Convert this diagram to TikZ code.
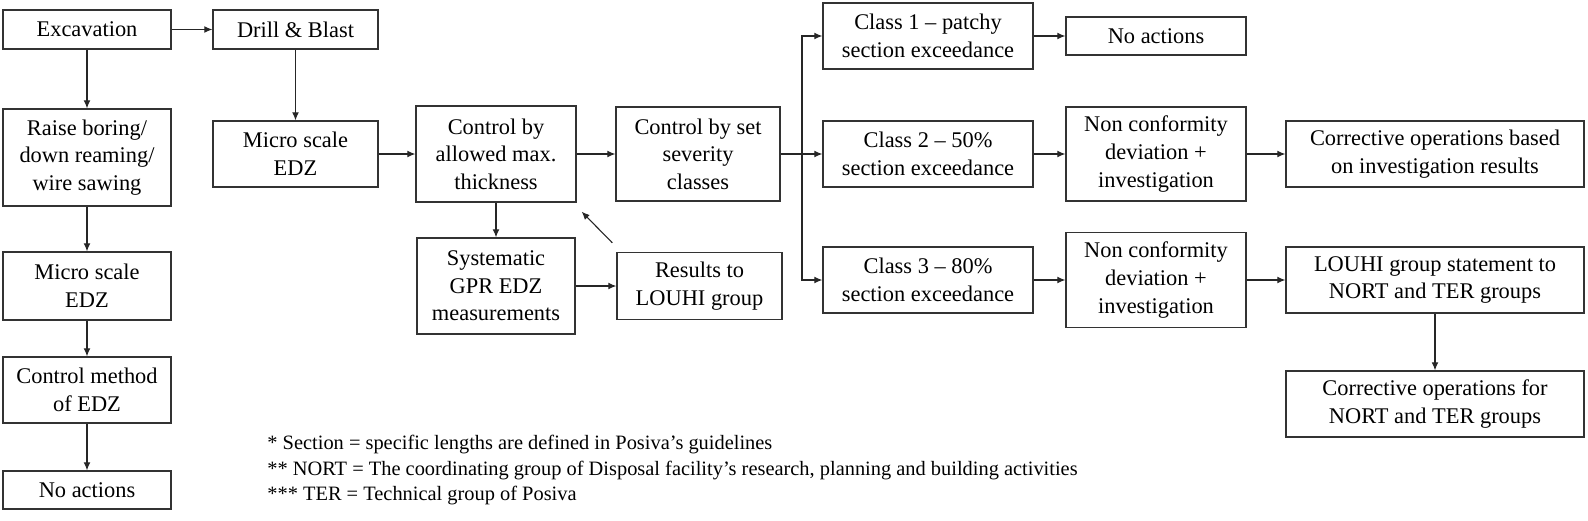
\documentclass[tikz,border=0pt]{standalone}
\usepackage{fontspec}
\setmainfont{Liberation Serif}
\usetikzlibrary{arrows.meta}
\tikzset{
	stage/.style={draw=black!80, line width=.65pt, align=center, inner sep=0pt,
		font=\fontsize{11.2}{13.8}\selectfont},
	flow/.style={draw=black!85, line width=.55pt, -{Latex[length=4pt,width=3.4pt]}},
	note/.style={anchor=west, inner sep=0pt, font=\fontsize{10.2}{12}\selectfont}
}
\begin{document}
\begin{tikzpicture}[x=.5pt,y=-.5pt]
	\useasboundingbox (0,0) rectangle (1588,520);
	\node[stage, minimum width=84pt, minimum height=19.5pt] (exc) at (87,29.5) {Excavation};
	\node[stage, minimum width=82.5pt, minimum height=19.5pt] (drill) at (295.5,29.5) {Drill \& Blast};
	\node[stage, minimum width=84pt, minimum height=48.5pt] (raise) at (87,157.5)
		{Raise boring/\\down reaming/\\wire sawing};
	\node[stage, minimum width=84pt, minimum height=34pt] (microL) at (87,286) {Micro scale\\EDZ};
	\node[stage, minimum width=84pt, minimum height=33pt] (ctrlEDZ) at (87,390) {Control method\\of EDZ};
	\node[stage, minimum width=84pt, minimum height=19pt] (noactL) at (87,490) {No actions};
	\node[stage, minimum width=82.5pt, minimum height=33pt] (microM) at (295.5,154) {Micro scale\\EDZ};
	\node[stage, minimum width=80pt, minimum height=48pt] (ctrlMax) at (496,154)
		{Control by\\allowed max.\\thickness};
	\node[stage, minimum width=79pt, minimum height=48pt] (gpr) at (496,286)
		{Systematic\\GPR EDZ\\measurements};
	\node[stage, minimum width=82.5pt, minimum height=33.5pt] (results) at (699.5,286)
		{Results to\\LOUHI group};
	\node[stage, minimum width=82pt, minimum height=47pt] (ctrlSet) at (698,154)
		{Control by set\\severity\\classes};
	\node[stage, minimum width=105pt, minimum height=33pt] (class1) at (928,36)
		{Class 1 -- patchy\\section exceedance};
	\node[stage, minimum width=90pt, minimum height=19pt] (noactR) at (1156,36) {No actions};
	\node[stage, minimum width=105pt, minimum height=33pt] (class2) at (928,154)
		{Class 2 -- 50\%\\section exceedance};
	\node[stage, minimum width=90pt, minimum height=47pt] (ncA) at (1156,154)
		{Non conformity\\deviation +\\investigation};
	\node[stage, minimum width=105pt, minimum height=33pt] (class3) at (928,280)
		{Class 3 -- 80\%\\section exceedance};
	\node[stage, minimum width=90pt, minimum height=47.5pt] (ncB) at (1156,280)
		{Non conformity\\deviation +\\investigation};
	\node[stage, minimum width=149pt, minimum height=33pt] (corrA) at (1435,154)
		{Corrective operations based\\on investigation results};
	\node[stage, minimum width=149pt, minimum height=33pt] (louhi) at (1435,280)
		{LOUHI group statement to\\NORT and TER groups};
	\node[stage, minimum width=149pt, minimum height=33pt] (corrB) at (1435,404)
		{Corrective operations for\\NORT and TER groups};
	\coordinate (split) at (802,154);
	\draw[flow] (exc) -- (drill);
	\draw[flow] (exc) -- (raise);
	\draw[flow] (raise) -- (microL);
	\draw[flow] (microL) -- (ctrlEDZ);
	\draw[flow] (ctrlEDZ) -- (noactL);
	\draw[flow] (drill) -- (microM);
	\draw[flow] (microM) -- (ctrlMax);
	\draw[flow] (ctrlMax) -- (ctrlSet);
	\draw[flow] (ctrlMax) -- (gpr);
	\draw[flow] (gpr) -- (results);
	\draw[flow] ([shift={(-4,-9)}]results.north west) -- ([shift={(5,9)}]ctrlMax.south east);
	\draw[draw=black!85, line width=.55pt] (ctrlSet) -- (split);
	\draw[flow] (split) |- (class1);
	\draw[flow] (split) -- (class2);
	\draw[flow] (split) |- (class3);
	\draw[flow] (class1) -- (noactR);
	\draw[flow] (class2) -- (ncA);
	\draw[flow] (class3) -- (ncB);
	\draw[flow] (ncA) -- (corrA);
	\draw[flow] (ncB) -- (louhi);
	\draw[flow] (louhi) -- (corrB);
	\node[note] (fnSec) at (267,445) {* Section = specific lengths are defined in Posiva's guidelines};
	\node[note] (fnNort) at (267,471)
		{** NORT = The coordinating group of Disposal facility's research, planning and building activities};
	\node[note] (fnTer) at (267,496) {*** TER = Technical group of Posiva};
\end{tikzpicture}
\end{document}
